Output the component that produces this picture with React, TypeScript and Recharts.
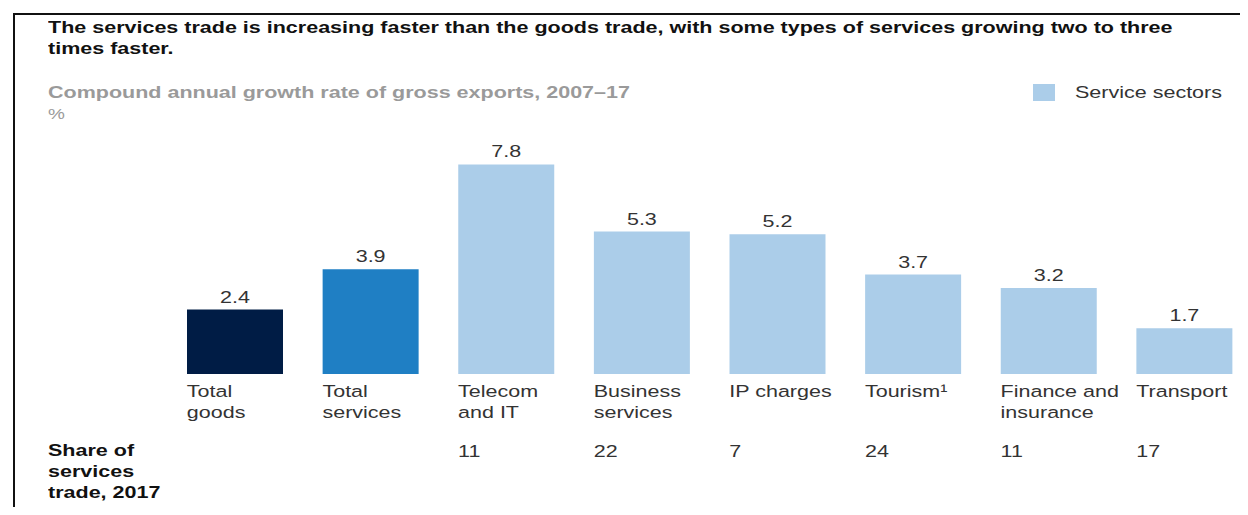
import { BarChart, Bar, XAxis, YAxis, Cell, LabelList } from "recharts";

const categories = [
  ["Total", "goods"],
  ["Total", "services"],
  ["Telecom", "and IT"],
  ["Business", "services"],
  ["IP charges"],
  ["Tourism¹"],
  ["Finance and", "insurance"],
  ["Transport"],
];
const growth = [2.4, 3.9, 7.8, 5.3, 5.2, 3.7, 3.2, 1.7];
const shares = ["", "", "11", "22", "7", "24", "11", "17"];
const barColors = ["#001c45", "#1f7fc4", "#abcde9", "#abcde9", "#abcde9", "#abcde9", "#abcde9", "#abcde9"];

const font = "'Liberation Sans', Arial, sans-serif";
// the source image is stretched sideways, so text is widened to match
const stretch = 1.265;

const data = growth.map((value, i) => ({
  name: categories[i].join(" "),
  value,
}));

const CategoryTick = (props: any) => {
  const { x, y, index } = props;
  const left = x - 48;
  return (
    <g>
      {categories[index].map((line, k) => (
        <text
          key={k}
          transform={`translate(${left} ${y + 15 + k * 21}) scale(${stretch} 1)`}
          fill="#333"
          fontSize={17}
          fontFamily={font}
        >
          {line}
        </text>
      ))}
      {shares[index] && (
        <text transform={`translate(${left} ${y + 75}) scale(${stretch} 1)`} fill="#333" fontSize={17} fontFamily={font}>
          {shares[index]}
        </text>
      )}
    </g>
  );
};

const ValueLabel = (props: any) => {
  const { x, y, width, value } = props;
  return (
    <text
      transform={`translate(${x + width / 2} ${y - 7}) scale(${stretch} 1)`}
      textAnchor="middle"
      fill="#333"
      fontSize={17}
      fontFamily={font}
    >
      {value}
    </text>
  );
};

const wide = {
  transform: `scaleX(${stretch})`,
  transformOrigin: "left top",
  whiteSpace: "nowrap" as const,
};

export default function App() {
  return (
    <div style={{ position: "relative", margin: -8, width: 1248, height: 515, overflow: "hidden", background: "#fff" }}>
      <div style={{ position: "absolute", left: 13, top: 13, width: 1240, height: 2, background: "#111" }} />
      <div style={{ position: "absolute", left: 13, top: 13, width: 2, height: 510, background: "#111" }} />
      <div
        style={{
          position: "absolute",
          left: 48,
          top: 17,
          fontFamily: font,
          fontWeight: "bold",
          fontSize: 17,
          lineHeight: "21px",
          color: "#111",
          ...wide,
        }}
      >
        The services trade is increasing faster than the goods trade, with some types of services growing two to three
        <br />
        times faster.
      </div>
      <div
        style={{
          position: "absolute",
          left: 48,
          top: 82,
          fontFamily: font,
          fontWeight: "bold",
          fontSize: 17,
          lineHeight: "21px",
          color: "#9a9a9a",
          ...wide,
        }}
      >
        Compound annual growth rate of gross exports, 2007–17
        <div style={{ fontWeight: "normal", fontSize: 15 }}>%</div>
      </div>
      <div
        style={{
          position: "absolute",
          left: 1033,
          top: 82,
          display: "flex",
          alignItems: "center",
          fontFamily: font,
          fontSize: 17,
          lineHeight: "21px",
          color: "#333",
        }}
      >
        <span style={{ display: "inline-block", width: 22, height: 17, background: "#abcde9", marginRight: 20 }} />
        <span style={wide}>Service sectors</span>
      </div>
      <div
        style={{
          position: "absolute",
          left: 48,
          top: 440,
          fontFamily: font,
          fontWeight: "bold",
          fontSize: 17,
          lineHeight: "21px",
          color: "#111",
          ...wide,
        }}
      >
        Share of
        <br />
        services
        <br />
        trade, 2017
        <div style={{ fontWeight: "normal", fontSize: 15, color: "#9a9a9a" }}>%</div>
      </div>
      <div style={{ position: "absolute", left: 0, top: 0 }}>
        <BarChart
          width={1252}
          height={515}
          data={data}
          margin={{ top: 159, right: 0, bottom: 101, left: 167 }}
          barSize={96}
        >
          <XAxis dataKey="name" axisLine={false} tickLine={false} interval={0} height={40} tick={<CategoryTick />} />
          <YAxis hide domain={[0, 8]} />
          <Bar dataKey="value" isAnimationActive={false}>
            {growth.map((_, i) => (
              <Cell key={i} fill={barColors[i]} />
            ))}
            <LabelList dataKey="value" content={<ValueLabel />} />
          </Bar>
        </BarChart>
      </div>
    </div>
  );
}
